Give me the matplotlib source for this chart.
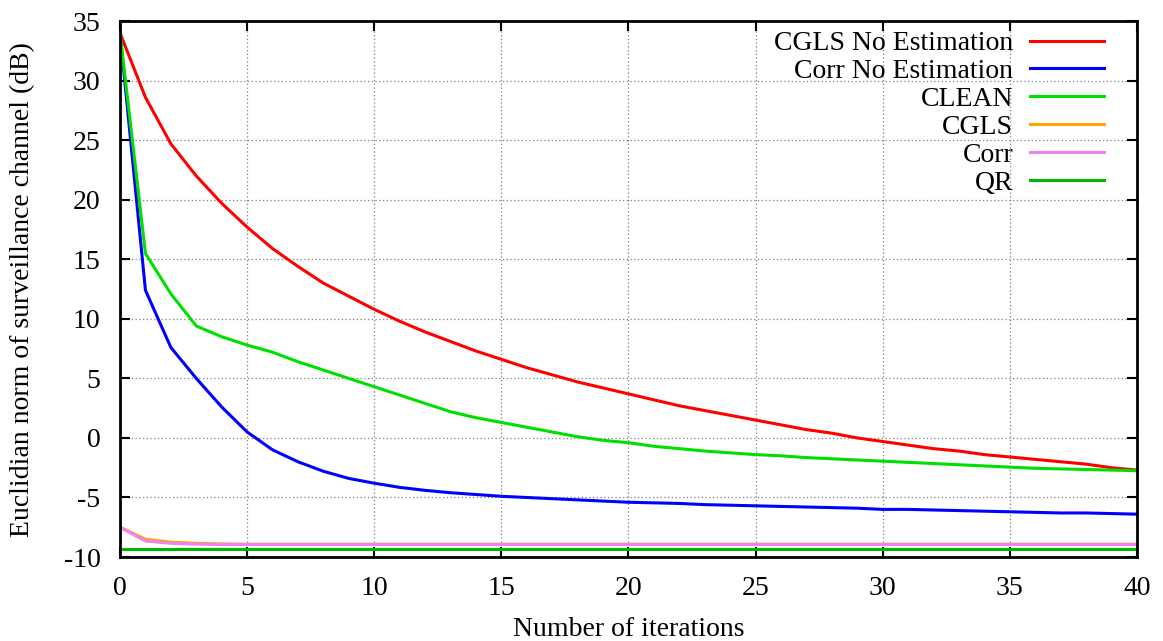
import matplotlib
matplotlib.use("Agg")
import matplotlib.pyplot as plt
import numpy as np

iterations = np.arange(0, 41)

cgls_no_est = [34.0, 28.6, 24.7, 22.0, 19.7, 17.7, 15.9, 14.4, 13.0, 11.9,
               10.8, 9.8, 8.9, 8.1, 7.3, 6.6, 5.9, 5.3, 4.7, 4.2,
               3.7, 3.2, 2.7, 2.3, 1.9, 1.5, 1.1, 0.7, 0.4, 0.0,
               -0.3, -0.6, -0.9, -1.1, -1.4, -1.6, -1.8, -2.0, -2.2, -2.5, -2.7]
corr_no_est = [34.0, 12.4, 7.6, 5.0, 2.6, 0.5, -1.0, -2.0, -2.8, -3.4,
               -3.8, -4.15, -4.4, -4.6, -4.75, -4.9, -5.0, -5.1, -5.2, -5.3,
               -5.4, -5.45, -5.5, -5.6, -5.65, -5.7, -5.75, -5.8, -5.85, -5.9,
               -6.0, -6.0, -6.05, -6.1, -6.15, -6.2, -6.25, -6.3, -6.3, -6.35, -6.4]
clean = [34.0, 15.5, 12.1, 9.4, 8.5, 7.8, 7.2, 6.4, 5.7, 5.0,
         4.3, 3.6, 2.9, 2.2, 1.7, 1.3, 0.9, 0.5, 0.1, -0.2,
         -0.4, -0.7, -0.9, -1.1, -1.25, -1.4, -1.5, -1.65, -1.75, -1.85,
         -1.95, -2.05, -2.15, -2.25, -2.35, -2.45, -2.55, -2.6, -2.65, -2.7, -2.75]
cgls = [-7.5, -8.5, -8.75, -8.85, -8.9] + [-8.92] * 36
corr = [-7.5, -8.65, -8.85, -8.92] + [-8.95] * 37
qr = [-9.3] * 41

series = [
    ("CGLS No Estimation", cgls_no_est, "#ff0000"),
    ("Corr No Estimation", corr_no_est, "#0000ff"),
    ("CLEAN", clean, "#00e000"),
    ("CGLS", cgls, "#ffa500"),
    ("Corr", corr, "#ee82ee"),
    ("QR", qr, "#00b400"),
]

plt.rcParams["font.family"] = ["Liberation Serif", "DejaVu Serif"]
plt.rcParams["font.size"] = 20
plt.rcParams["axes.unicode_minus"] = False

fig = plt.figure(figsize=(11.63, 6.41), dpi=100)
ax = fig.add_axes([0.1032, 0.131, 0.8744, 0.836])

for label, values, color in series:
    ax.plot(iterations, values, color=color, lw=2.2, label=label)

ax.set_xlim(0, 40)
ax.set_ylim(-10, 35)
ax.set_xticks(np.arange(0, 41, 5))
ax.set_yticks(np.arange(-10, 36, 5))
ax.grid(True, color="#808080", linestyle=(0, (1, 2)), lw=0.9)
ax.tick_params(direction="in", length=7, width=1.5, top=True, right=True)
ax.tick_params(axis="x", pad=14)
ax.tick_params(axis="y", pad=14)
for sp in ax.spines.values():
    sp.set_linewidth(2)

ax.set_xlabel("Number of iterations")
ax.set_ylabel("Euclidian norm of surveillance channel (dB)")
ax.xaxis.set_label_coords(0.5, -0.112)
ax.yaxis.set_label_coords(-0.083, 0.5)

leg = ax.legend(loc="upper right", frameon=False, markerfirst=False,
                handlelength=2.66, handletextpad=0.61, labelspacing=0.09,
                borderpad=0, borderaxespad=0, bbox_to_anchor=(0.9676, 0.982))

fig.savefig("out.png", dpi=100)
